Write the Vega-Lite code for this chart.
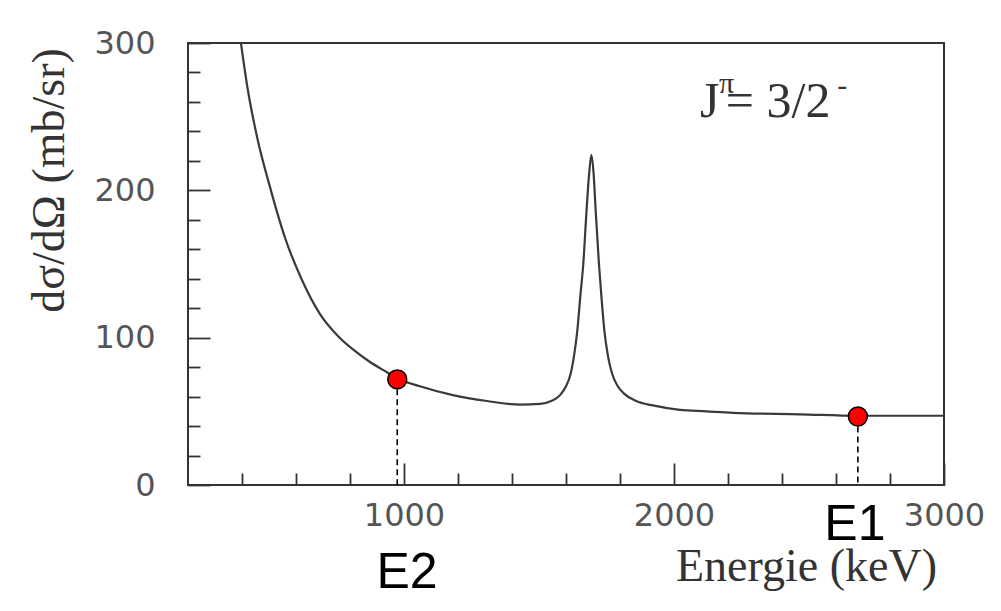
{
  "$schema": "https://vega.github.io/schema/vega-lite/v6.json",
  "width": 756,
  "height": 442,
  "autosize": {"type": "none"},
  "padding": {"left": 188, "top": 43, "right": 57, "bottom": 126},
  "background": "white",
  "config": {
    "view": {"stroke": "#333333", "strokeWidth": 2},
    "axis": {"grid": false, "domain": false}
  },
  "datasets": {
    "curve": [
      {"E": 396, "s": 300}, {"E": 420, "s": 270}, {"E": 456, "s": 236}, {"E": 504, "s": 202},
      {"E": 559, "s": 168}, {"E": 620, "s": 140}, {"E": 689, "s": 116}, {"E": 756, "s": 101},
      {"E": 811, "s": 92}, {"E": 870, "s": 84}, {"E": 937, "s": 76.5}, {"E": 974, "s": 72.5},
      {"E": 1059, "s": 67}, {"E": 1181, "s": 61}, {"E": 1307, "s": 57}, {"E": 1430, "s": 54.5},
      {"E": 1504, "s": 55}, {"E": 1545, "s": 57}, {"E": 1578, "s": 61}, {"E": 1600, "s": 67},
      {"E": 1618, "s": 76}, {"E": 1630, "s": 88}, {"E": 1642, "s": 105}, {"E": 1653, "s": 128},
      {"E": 1664, "s": 150}, {"E": 1676, "s": 186}, {"E": 1686, "s": 212}, {"E": 1694, "s": 224},
      {"E": 1702, "s": 212}, {"E": 1710, "s": 186}, {"E": 1722, "s": 150}, {"E": 1732, "s": 126},
      {"E": 1742, "s": 105}, {"E": 1755, "s": 88}, {"E": 1770, "s": 76}, {"E": 1792, "s": 67},
      {"E": 1815, "s": 62}, {"E": 1860, "s": 57}, {"E": 1922, "s": 54}, {"E": 2022, "s": 51},
      {"E": 2120, "s": 50}, {"E": 2219, "s": 49}, {"E": 2467, "s": 48}, {"E": 2681, "s": 47},
      {"E": 2850, "s": 47}, {"E": 3000, "s": 47}
    ],
    "pts": [
      {"E": 975, "s": 71.7, "name": "E2"},
      {"E": 2681, "s": 46.5, "name": "E1"}
    ],
    "elabels": [
      {"E": 1011, "s": -69.8, "t": "E2"},
      {"E": 2670, "s": -37, "t": "E1"}
    ],
    "ann": [
      {"E": 2096, "s": 249.5, "t": "J"},
      {"E": 2192, "s": 249.5, "t": "= 3/2"}
    ],
    "sup": [
      {"E": 2167, "s": 266, "t": "π"},
      {"E": 2605, "s": 265, "t": "-"}
    ]
  },
  "encoding": {
    "x": {
      "field": "E", "type": "quantitative",
      "scale": {"domain": [200, 3000], "nice": false, "zero": false},
      "axis": {
        "orient": "bottom",
        "values": [400, 600, 800, 1000, 1200, 1400, 1600, 1800, 2000, 2200, 2400, 2600, 2800, 3000],
        "tickSize": {"condition": {"test": "datum.value % 1000 === 0", "value": -22}, "value": -12},
        "tickColor": "#333333", "tickWidth": 1.8,
        "labelExpr": "datum.value % 1000 === 0 ? '' + datum.value : ''",
        "labelFont": "DejaVu Sans", "labelFontSize": 32, "labelColor": "#555555",
        "labelPadding": 37, "labelFlush": false, "labelOverlap": false,
        "title": "Energie (keV)",
        "titleFont": "Liberation Serif", "titleFontSize": 46, "titleFontWeight": "normal",
        "titleColor": "#333333", "titleX": 618, "titleY": 95,
        "titleAlign": "center", "titleBaseline": "alphabetic"
      }
    },
    "y": {
      "field": "s", "type": "quantitative",
      "scale": {"domain": [0, 300], "nice": false},
      "axis": {
        "orient": "left",
        "values": [0, 20, 40, 60, 80, 100, 120, 140, 160, 180, 200, 220, 240, 260, 280, 300],
        "tickSize": {"condition": {"test": "datum.value % 100 === 0", "value": -22}, "value": -12},
        "tickColor": "#333333", "tickWidth": 1.8,
        "labelExpr": "datum.value % 100 === 0 ? '' + datum.value : ''",
        "labelFont": "DejaVu Sans", "labelFontSize": 32, "labelColor": "#555555",
        "labelPadding": 55, "labelFlush": false, "labelOverlap": false,
        "title": "dσ/dΩ (mb/sr)",
        "titleFont": "Liberation Serif", "titleFontSize": 46, "titleFontWeight": "normal",
        "titleColor": "#333333", "titleX": -139, "titleY": 137, "titleAngle": -90,
        "titleAlign": "center", "titleBaseline": "middle"
      }
    }
  },
  "layer": [
    {
      "data": {"name": "curve"},
      "mark": {"type": "line", "color": "#3a3a3a", "strokeWidth": 2.2, "interpolate": "monotone", "clip": true}
    },
    {
      "data": {"name": "pts"},
      "mark": {"type": "rule", "color": "#000000", "strokeWidth": 1.6, "strokeDash": [6, 4]},
      "encoding": {"y2": {"datum": 0}}
    },
    {
      "data": {"name": "pts"},
      "mark": {"type": "point", "shape": "circle", "filled": true, "size": 360, "fill": "#ff0000", "stroke": "#000000", "strokeWidth": 1.5, "opacity": 1}
    },
    {
      "data": {"name": "elabels"},
      "mark": {"type": "text", "font": "Liberation Sans", "fontSize": 50, "color": "#000000", "align": "center", "baseline": "alphabetic"},
      "encoding": {"text": {"field": "t"}}
    },
    {
      "data": {"name": "ann"},
      "mark": {"type": "text", "font": "Liberation Serif", "fontSize": 50, "color": "#333333", "align": "left", "baseline": "alphabetic"},
      "encoding": {"text": {"field": "t"}}
    },
    {
      "data": {"name": "sup"},
      "mark": {"type": "text", "font": "Liberation Serif", "fontSize": 30, "color": "#333333", "align": "left", "baseline": "alphabetic"},
      "encoding": {"text": {"field": "t"}}
    }
  ]
}
